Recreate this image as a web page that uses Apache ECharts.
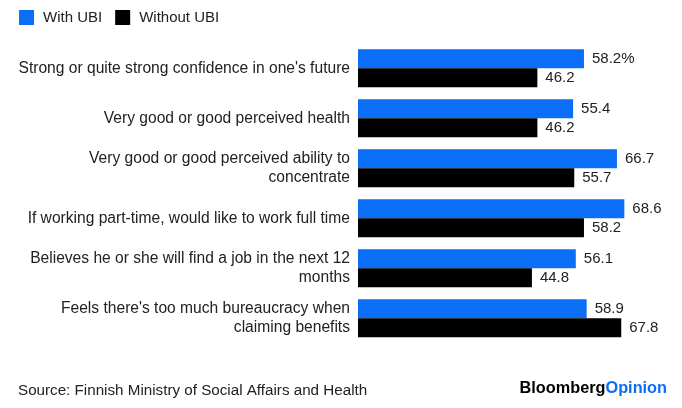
<!DOCTYPE html>
<html><head><meta charset="utf-8">
<script src="https://cdn.jsdelivr.net/npm/echarts@6/dist/echarts.min.js"></script>
<style>html,body{margin:0;padding:0;background:#fff}#c{width:682px;height:408px}</style>
</head><body><div id="c"></div>
<script>
const categories = [
  "Strong or quite strong confidence in one's future",
  "Very good or good perceived health",
  "Very good or good perceived ability to\nconcentrate",
  "If working part-time, would like to work full time",
  "Believes he or she will find a job in the next 12\nmonths",
  "Feels there's too much bureaucracy when\nclaiming benefits"
];
const withUBI = [58.2, 55.4, 66.7, 68.6, 56.1, 58.9];
const withoutUBI = [46.2, 46.2, 55.7, 58.2, 44.8, 67.8];
const seriesNames = ["With UBI", "Without UBI"];

const FONT = '"Liberation Sans", Arial, sans-serif';
const chart = echarts.init(document.getElementById('c'));
chart.setOption({
  animation: false,
  textStyle: { fontFamily: FONT },
  legend: {
    left: 14, top: 5, itemWidth: 15, itemHeight: 15, itemGap: 13,
    icon: 'rect',
    textStyle: { fontSize: 15, color: '#222', fontFamily: FONT, padding: [0, 0, 0, 4] },
    data: seriesNames
  },
  grid: { left: 358, top: 43.3, width: 310.6, height: 300 },
  xAxis: { type: 'value', min: 0, max: 80, show: false },
  yAxis: {
    type: 'category', data: categories, inverse: true,
    axisLine: { show: false }, axisTick: { show: false },
    axisLabel: { fontSize: 15.6, color: '#222', lineHeight: 19, margin: 8, fontFamily: FONT }
  },
  series: [
    { name: seriesNames[0], type: 'bar', data: withUBI, barWidth: 19, barGap: '0%',
      itemStyle: { color: '#0a6ef7' },
      label: { show: true, position: 'right', distance: 8, fontSize: 15, color: '#222', fontFamily: FONT,
        formatter: p => p.dataIndex === 0 ? p.value + '%' : p.value } },
    { name: seriesNames[1], type: 'bar', data: withoutUBI, barWidth: 19,
      itemStyle: { color: '#000' },
      label: { show: true, position: 'right', distance: 8, fontSize: 15, color: '#222', fontFamily: FONT } }
  ],
  graphic: [
    { type: 'text', left: 18, top: 383, style: { text: 'Source: Finnish Ministry of Social Affairs and Health', fontSize: 15.2, fill: '#222', fontFamily: FONT } },
    { type: 'text', right: 15, top: 381, style: { rich: { a: { fontSize: 16.3, fontWeight: 'bold', fill: '#000', fontFamily: FONT }, b: { fontSize: 16.3, fontWeight: 'bold', fill: '#0a6ef7', fontFamily: FONT } }, text: '{a|Bloomberg}{b|Opinion}' } }
  ]
});
</script></body></html>
